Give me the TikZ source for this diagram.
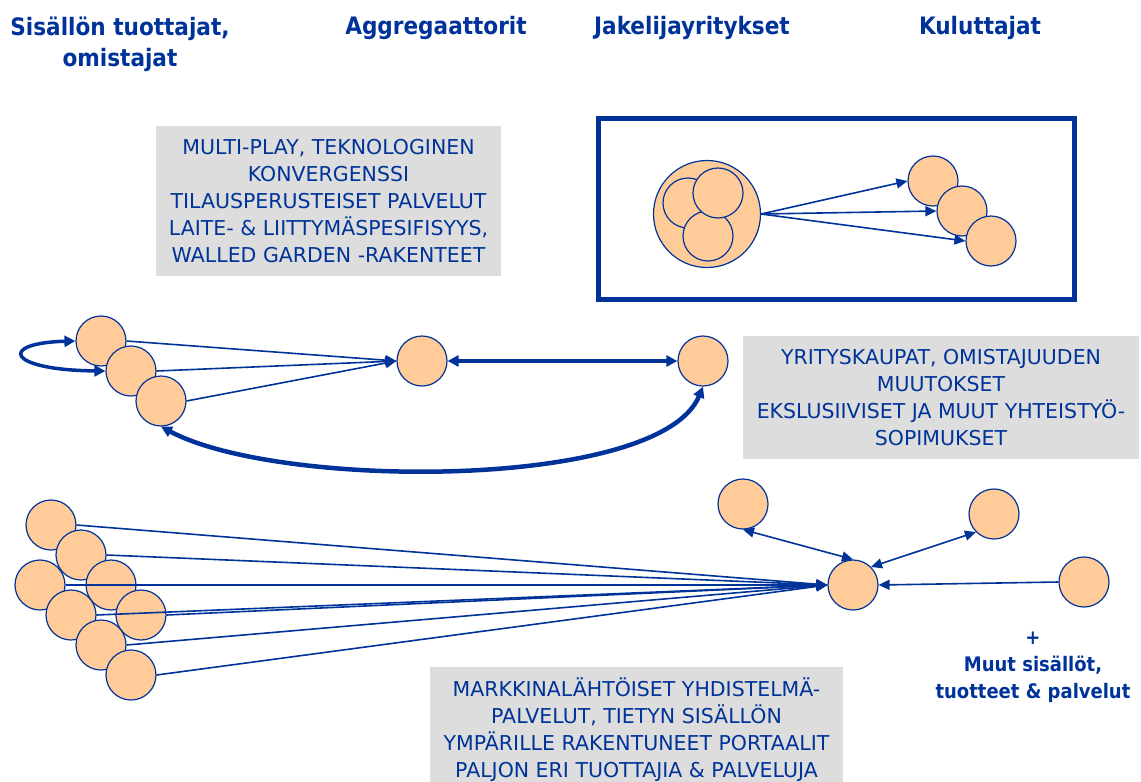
\documentclass[tikz,border=0pt]{standalone}
\usepackage{fontspec}
\setmainfont{DejaVu Sans Condensed}
\newfontfamily\boxfont{DejaVu Sans}
\usetikzlibrary{arrows.meta}

\definecolor{darkblue}{HTML}{003399}
\definecolor{peach}{HTML}{FFCC99}
\definecolor{boxgray}{HTML}{DDDDDD}

\begin{document}
\begin{tikzpicture}[x=1pt, y=-1pt,
    actor/.style={circle, draw=darkblue, fill=peach, line width=1.2pt, minimum size=50pt, inner sep=0pt},
    infobox/.style={fill=boxgray, text=darkblue, align=center, inner sep=0pt, font=\boxfont\fontsize{20.5}{27}\selectfont},
    heading/.style={text=darkblue, align=center, font=\bfseries\fontsize{24}{31}\selectfont},
    note/.style={text=darkblue, align=center, font=\bfseries\fontsize{20}{27}\selectfont},
    link/.style={darkblue, line width=1.6pt, -{Triangle[length=11pt, width=10pt]}},
    duallink/.style={darkblue, line width=1.6pt, {Triangle[length=11pt, width=10pt]}-{Triangle[length=11pt, width=10pt]}},
    biglink/.style={darkblue, line width=3.5pt, {Triangle[length=11pt, width=11pt]}-{Triangle[length=11pt, width=11pt]}}]

      \useasboundingbox (0,0) rectangle (1141,782);

      % Column headings
      \node[heading] (hproducers) at (120,44) {Sisällön tuottajat,\\omistajat};
      \node[heading] (haggregators) at (436,28) {Aggregaattorit};
      \node[heading] (hdistributors) at (692,28) {Jakelijayritykset};
      \node[heading] (hconsumers) at (980,28) {Kuluttajat};

      % Info boxes
      \node[infobox, minimum width=345pt, minimum height=150pt] (multiplay) at (328.5,201)
        {MULTI-PLAY, TEKNOLOGINEN\\KONVERGENSSI\\TILAUSPERUSTEISET PALVELUT\\LAITE- \& LIITTYMÄSPESIFISYYS,\\WALLED GARDEN -RAKENTEET};
      \node[infobox, minimum width=396pt, minimum height=123pt] (deals) at (941,397.5)
        {YRITYSKAUPAT, OMISTAJUUDEN\\MUUTOKSET\\EKSLUSIIVISET JA MUUT YHTEISTYÖ-\\SOPIMUKSET};
      \node[infobox, minimum width=413pt, minimum height=126pt] (portals) at (636.5,730)
        {MARKKINALÄHTÖISET YHDISTELMÄ-\\PALVELUT, TIETYN SISÄLLÖN\\YMPÄRILLE RAKENTUNEET PORTAALIT\\PALJON ERI TUOTTAJIA \& PALVELUJA};

      % Top: integrated distributor
      \draw[darkblue, line width=5pt] (598,118) rectangle (1074,299);
      \node[actor, minimum size=107pt] (hub) at (707,214) {};
      \node[actor] (hubA) at (688,203) {};
      \node[actor] (hubC) at (708,236) {};
      \node[actor] (hubB) at (718,193) {};
      \node[actor] (c1) at (933,181) {};
      \node[actor] (c2) at (962,211) {};
      \node[actor] (c3) at (991,241) {};
      \draw[link] (hub.east) -- (c1.west);
      \draw[link] (hub.east) -- (c2.west);
      \draw[link] (hub.east) -- (c3.west);

      % Middle: producers -> aggregator <-> distributor
      \node[actor] (p1) at (101,341) {};
      \node[actor] (p2) at (131,371) {};
      \node[actor] (p3) at (161,401) {};
      \node[actor] (agg) at (422,361) {};
      \node[actor] (dist) at (703,361) {};
      \draw[link] (p1.east) -- (agg.west);
      \draw[link] (p2.east) -- (agg.west);
      \draw[link] (p3.east) -- (agg.west);
      \draw[biglink] (agg) -- (dist);
      \draw[biglink] (p1.west) .. controls (-2,343) and (6,370) .. (p2.west);
      \draw[biglink, line width=4.5pt] (p3.south) .. controls (280,490) and (660,490) .. (dist.south);

      % Bottom: many producers -> portal
      \foreach \name/\x/\y in {s1/51/525, s2/81/555, s3/40/585, s4/111/585,
                               s5/71/615, s6/141/615, s7/101/645, s8/131/675}
        \node[actor] (\name) at (\x,\y) {};
      \node[actor] (portal) at (853,585) {};
      \foreach \name in {s1,s2,s3,s4,s5,s6,s7,s8}
        \draw[link] (\name.east) -- (portal.west);
      \node[actor] (e1) at (743,504) {};
      \node[actor] (e2) at (994,514) {};
      \node[actor] (e3) at (1084,582) {};
      \draw[duallink] (e1.south) -- (portal.north);
      \draw[duallink] (e2.south west) -- (portal.north east);
      \draw[link] (e3.west) -- (portal.east);

      \node[note] (others) at (1033,667) {+\\Muut sisällöt,\\tuotteet \& palvelut};

\end{tikzpicture}
\end{document}
